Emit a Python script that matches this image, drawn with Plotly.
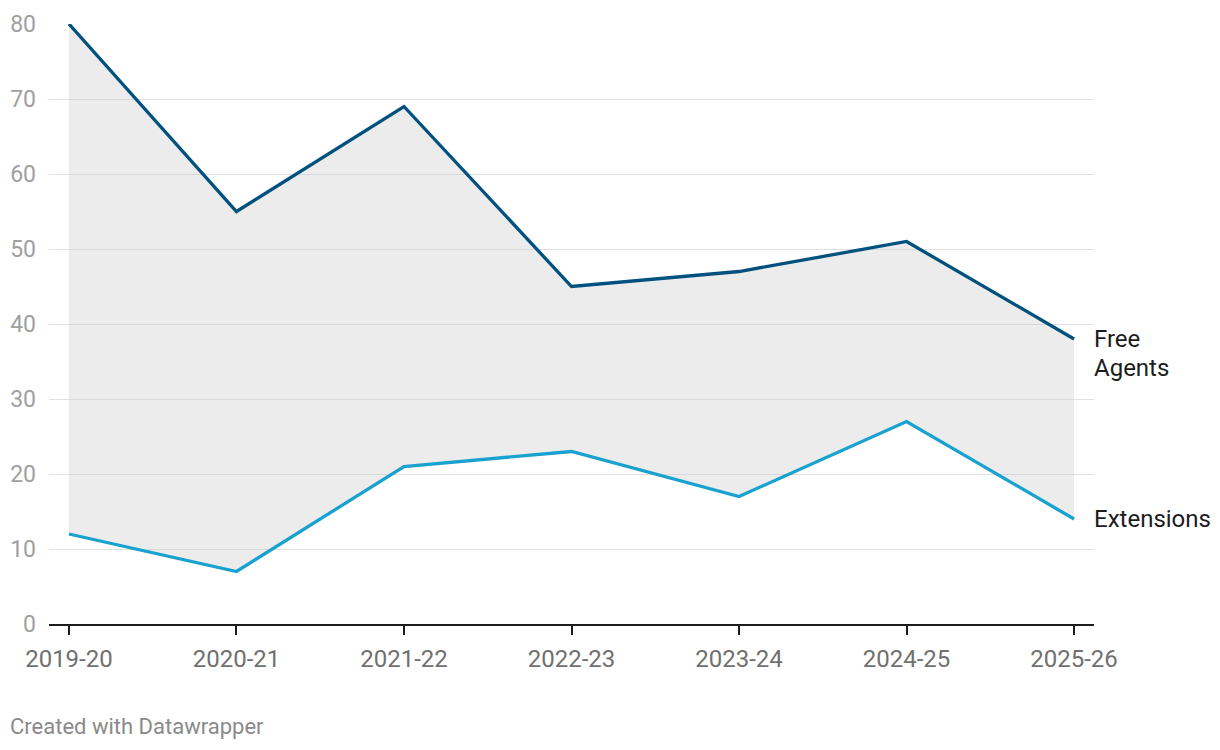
import plotly.graph_objects as go

seasons = ["2019-20", "2020-21", "2021-22", "2022-23", "2023-24", "2024-25", "2025-26"]
free_agents = [80, 55, 69, 45, 47, 51, 38]
extensions = [12, 7, 21, 23, 17, 27, 14]

FA_COLOR = "#00517d"
EXT_COLOR = "#19a2cf"
FILL = "rgba(200,200,200,0.345)"
FONT = "Roboto"

x = list(range(len(seasons)))

fig = go.Figure()
# shaded band between the two series
fig.add_trace(go.Scatter(x=x, y=extensions, mode="lines", line=dict(width=0),
                         hoverinfo="skip", showlegend=False, cliponaxis=False))
fig.add_trace(go.Scatter(x=x, y=free_agents, mode="lines", line=dict(width=0),
                         fill="tonexty", fillcolor=FILL, hoverinfo="skip",
                         showlegend=False, cliponaxis=False))
# lines
fig.add_trace(go.Scatter(x=x, y=extensions, mode="lines", name="Extensions",
                         line=dict(color=EXT_COLOR, width=3.3), showlegend=False,
                         cliponaxis=False))
fig.add_trace(go.Scatter(x=x, y=free_agents, mode="lines", name="Free Agents",
                         line=dict(color=FA_COLOR, width=3.3), showlegend=False,
                         cliponaxis=False))

# end labels
lab_font = dict(family=FONT, size=24, color="#1d1d1d")
fig.add_annotation(x=x[-1], y=free_agents[-1], text="Free", showarrow=False,
                   xanchor="left", yanchor="middle", xshift=18, yshift=0, align="left",
                   font=lab_font)
fig.add_annotation(x=x[-1], y=free_agents[-1], text="Agents", showarrow=False,
                   xanchor="left", yanchor="middle", xshift=18, yshift=-28.5, align="left",
                   font=lab_font)
fig.add_annotation(x=x[-1], y=extensions[-1], text="Extensions", showarrow=False,
                   xanchor="left", yanchor="middle", xshift=18, yshift=0, align="left",
                   font=lab_font)

fig.add_annotation(x=0, y=0, xref="paper", yref="paper", xanchor="left", yanchor="middle",
                   text="Created with Datawrapper", showarrow=False,
                   xshift=-41, yshift=-102,
                   font=dict(family=FONT, size=22, color="#8a8a8a"))

fig.update_xaxes(
    range=[-0.119, 6.119], tickmode="array", tickvals=x, ticktext=seasons,
    showgrid=False, showline=True, linecolor="#1d1d1d", linewidth=2.2,
    ticks="outside", ticklen=9, tickwidth=2.2, tickcolor="#1d1d1d",
    ticklabelstandoff=3,
    tickfont=dict(family=FONT, size=24, color="#707070"), zeroline=False,
    fixedrange=True, automargin=False,
)
fig.update_yaxes(
    range=[0, 80], tickvals=[0, 10, 20, 30, 40, 50, 60, 70, 80],
    showgrid=True, gridcolor="#e0e0e0", gridwidth=1.3, zeroline=False,
    showline=False, ticks="", ticklabelstandoff=12,
    tickfont=dict(family=FONT, size=23, color="#a0a0a0"), fixedrange=True,
    automargin=False,
)

fig.update_layout(
    width=1220, height=750,
    margin=dict(l=41, r=134, t=16, b=134),
    plot_bgcolor="white", paper_bgcolor="white",
    font=dict(family=FONT),
)

fig.write_html("out.html")
